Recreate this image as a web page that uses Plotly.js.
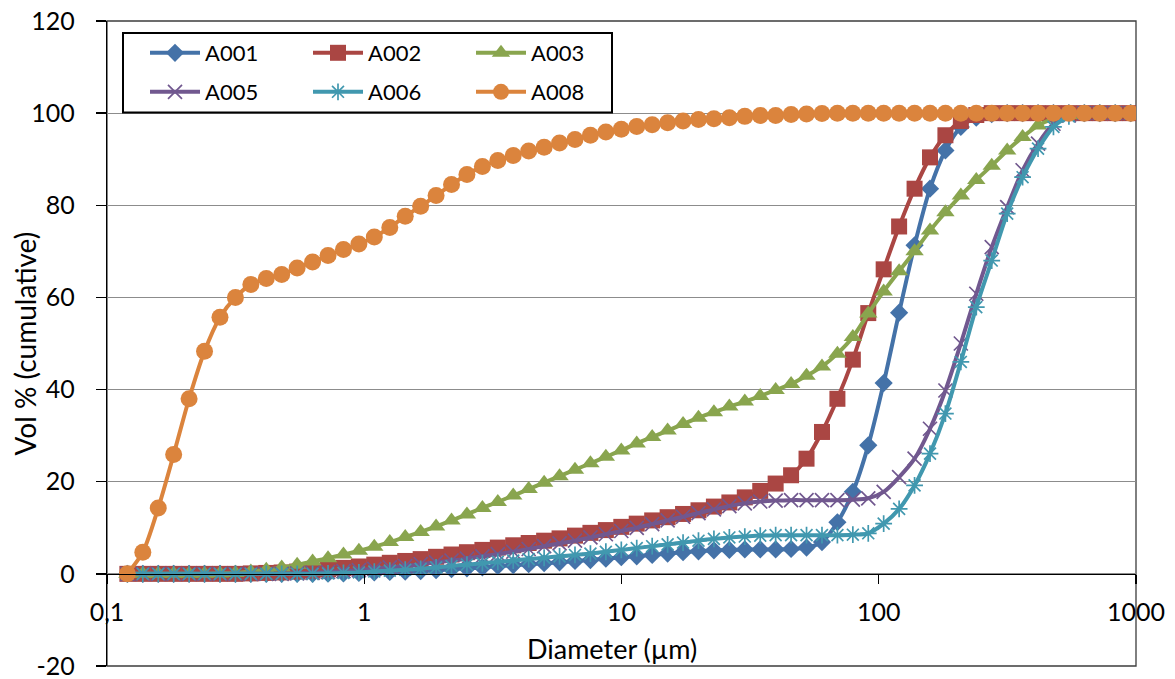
<!DOCTYPE html>
<html>
<head>
<meta charset="utf-8">
<script src="https://cdn.plot.ly/plotly-3.0.1.min.js"></script>
<style>
  html, body { margin: 0; padding: 0; background: #ffffff; }
  #chart { width: 1175px; height: 679px; }
</style>
</head>
<body>
<div id="chart"></div>
<script>
// Particle diameter (µm), shared by all samples
const diameter = [0.12, 0.1378, 0.1582, 0.1816, 0.2085, 0.2394, 0.2749, 0.3157, 0.3624, 0.4161,
  0.4777, 0.5485, 0.6298, 0.7231, 0.8302, 0.9532, 1.094, 1.257, 1.443, 1.657,
  1.902, 2.184, 2.507, 2.879, 3.305, 3.795, 4.357, 5.003, 5.744, 6.595,
  7.572, 8.694, 9.982, 11.46, 13.16, 15.11, 17.35, 19.92, 22.87, 26.26,
  30.15, 34.62, 39.74, 45.63, 52.39, 60.16, 69.07, 79.30, 91.05, 104.5,
  120.0, 137.8, 158.2, 181.6, 208.5, 239.4, 274.9, 315.7, 362.4, 416.1,
  477.7, 548.5, 629.8, 723.1, 830.2, 953.2];

// Cumulative volume % per sample
const A001 = [0,0,0,0,0,0,0,0,0,0,0,0,0,
  0.05,0.1,0.2,0.3,0.4,0.5,0.6,
  0.8,1.0,1.2,1.4,1.7,1.9,2.1,2.3,2.5,2.8,
  3.0,3.3,3.6,3.8,4.1,4.4,4.7,4.9,5.1,5.2,5.3,5.3,5.3,5.4,5.7,6.9,
  11.2,17.8,27.9,41.4,56.7,71.3,83.6,91.9,97.0,99.0,99.8,
  100,100,100,100,100,100,100,100,100];
const A002 = [0,0,0,0,0,0,0,0,
  0.1,0.2,0.3,0.5,0.7,1.0,1.3,
  1.6,2.0,2.4,2.8,3.2,3.7,4.2,4.7,5.2,5.7,6.2,6.7,7.2,7.7,8.3,
  8.9,9.5,10.2,10.9,11.6,12.3,13.0,13.8,14.6,15.5,16.6,18.0,19.6,21.4,
  25.0,30.8,38.0,46.5,56.6,66.1,75.4,83.6,90.4,95.2,98.3,99.6,
  100,100,100,100,100,100,100,100,100,100];
const A003 = [0,0,0,0,0,0,
  0.1,0.2,0.5,0.9,1.4,2.0,2.7,3.4,4.2,5.0,
  5.9,6.9,8.0,9.1,10.3,11.6,12.9,14.3,15.6,17.0,18.4,19.8,21.2,22.6,
  24.0,25.4,26.8,28.3,29.7,31.1,32.5,33.9,35.1,36.3,37.4,38.6,39.9,41.2,43.0,45.0,
  47.8,51.4,56.5,61.3,65.7,70.0,74.5,78.5,82.1,85.5,88.6,91.9,94.8,97.3,98.8,99.6,
  100,100,100,100];
const A005 = [0,0,0,0,0,0,0,0,0,0,0,
  0.1,0.2,0.4,0.6,0.8,1.1,1.4,1.7,2.1,2.5,2.9,3.3,
  3.8,4.3,4.8,5.4,6.0,6.6,7.2,7.9,8.6,9.3,10.0,10.8,11.6,12.4,13.2,14.0,
  14.7,15.3,15.7,15.9,16.0,16.0,16.0,16.0,16.1,16.4,
  17.8,21.0,25.0,31.5,39.8,50.0,60.8,70.9,79.6,87.6,93.4,97.7,99.5,
  100,100,100,100];
const A006 = [0,0,0,0,0,0,0,0,0,0,0,0,0,
  0.1,0.2,0.3,0.5,0.7,0.9,1.1,1.4,1.7,2.0,2.3,2.6,2.9,3.2,3.5,3.8,
  4.1,4.4,4.8,5.2,5.6,6.0,6.4,6.8,7.2,7.6,7.9,8.1,8.3,8.4,8.4,8.4,8.4,8.4,8.5,
  8.8,10.9,14.1,19.2,26.1,34.8,46.0,57.9,68.0,78.2,86.1,92.3,97.0,99.3,
  100,100,100,100];
const A008 = [0,4.7,14.3,25.9,38.0,48.3,55.7,60.0,62.8,64.1,65.0,66.4,67.7,69.1,70.4,71.6,73.1,75.2,
  77.6,79.8,82.1,84.5,86.7,88.4,89.7,90.8,91.8,92.6,93.5,94.3,95.2,95.9,96.5,97.1,
  97.5,97.9,98.3,98.6,98.8,99.0,99.3,99.5,99.5,99.7,99.8,99.9,
  100,100,100,100,100,100,100,100,100,100,100,100,100,100,100,100,100,100,100,100];

const seriesNames = ['A001', 'A002', 'A003', 'A005', 'A006', 'A008'];
const xTickVals = [0.1, 1, 10, 100, 1000];
const xTickText = ['0,1', '1', '10', '100', '1000'];
const yTickVals = [-20, 0, 20, 40, 60, 80, 100, 120];
const yTickText = ['-20', '0', '20', '40', '60', '80', '100', '120'];

const FONT = 'Lato, "Open Sans", "Liberation Sans", sans-serif';

const styles = {
  A001: {color: '#4472A8', symbol: 'diamond', size: 14, legend: 'legend'},
  A002: {color: '#AA4643', symbol: 'square', size: 16, legend: 'legend'},
  A003: {color: '#89A54E', symbol: 'triangle-up', size: 16, legend: 'legend'},
  A005: {color: '#71588F', symbol: 'x-thin-open', size: 14, legend: 'legend2'},
  A006: {color: '#4198AF', symbol: 'asterisk-open', size: 14, legend: 'legend2'},
  A008: {color: '#DB843D', symbol: 'circle', size: 17, legend: 'legend2'}
};
const values = {A001, A002, A003, A005, A006, A008};

const traces = seriesNames.map(name => {
  const s = styles[name];
  const thin = s.symbol.indexOf('open') >= 0;
  return {
    type: 'scatter',
    mode: 'lines+markers',
    name: name,
    x: diameter,
    y: values[name],
    legend: s.legend,
    line: {color: s.color, width: 4, shape: 'spline', smoothing: 0.8},
    marker: {
      symbol: s.symbol,
      size: s.size,
      color: s.color,
      line: thin ? {color: s.color, width: 1.7} : {width: 0}
    },
    hoverinfo: 'x+y+name'
  };
});

// paper coordinates helpers for the plot area (left 107, right 1136, top 21, bottom 666)
const L = 107, R = 1136, T = 21, B = 666;
const px2x = p => (p - L) / (R - L);
const py2y = p => (B - p) / (B - T);

const legendCommon = {
  orientation: 'h',
  xanchor: 'left',
  yanchor: 'middle',
  bgcolor: 'rgba(0,0,0,0)',
  borderwidth: 0,
  entrywidth: 98, entrywidthmode: 'pixels',
  itemwidth: 50,
  font: {family: FONT, size: 22, color: '#000000'},
  traceorder: 'normal'
};

const layout = {
  width: 1175,
  height: 679,
  margin: {l: L, r: 1175 - R, t: T, b: 679 - B, pad: 0},
  paper_bgcolor: '#ffffff',
  plot_bgcolor: '#ffffff',
  showlegend: true,
  font: {family: FONT, color: '#000000', size: 24},
  xaxis: {
    type: 'log',
    range: [-1, 3],
    anchor: 'free',
    position: 20 / 140,
    tickvals: xTickVals,
    ticktext: xTickText,
    ticks: 'outside',
    ticklen: 9,
    tickwidth: 1.3,
    tickcolor: '#000000',
    showline: true,
    linecolor: '#000000',
    linewidth: 1.3,
    showgrid: false,
    zeroline: false,
    ticklabelstandoff: 7,
    ticklabeloverflow: 'allow',
    tickfont: {family: FONT, size: 25, color: '#000000'}
  },
  yaxis: {
    range: [-20, 120],
    tickvals: yTickVals,
    ticktext: yTickText,
    ticks: 'outside',
    ticklen: 10,
    tickwidth: 1.3,
    tickcolor: '#000000',
    showline: true,
    linecolor: '#000000',
    linewidth: 1.3,
    showgrid: true,
    gridcolor: '#8C8C8C',
    gridwidth: 1.2,
    zeroline: false,
    ticklabelstandoff: 16,
    ticklabeloverflow: 'allow',
    tickfont: {family: FONT, size: 25, color: '#000000'}
  },
  legend: Object.assign({}, legendCommon, {x: px2x(145), y: py2y(53)}),
  legend2: Object.assign({}, legendCommon, {x: px2x(145), y: py2y(92)}),
  shapes: [
    // plot-area frame
    {type: 'rect', xref: 'paper', yref: 'paper', x0: 0, x1: 1, y0: 0, y1: 1,
     line: {color: '#3C3C3C', width: 1.3}, fillcolor: 'rgba(0,0,0,0)', layer: 'below'},
    // legend box
    {type: 'rect', xref: 'paper', yref: 'paper',
     x0: px2x(123), x1: px2x(612), y0: py2y(112.5), y1: py2y(33),
     line: {color: '#000000', width: 2}, fillcolor: '#ffffff', layer: 'above'}
  ],
  annotations: [
    {text: 'Vol % (cumulative)', xref: 'paper', yref: 'paper',
     x: px2x(24), y: 0.5, xanchor: 'center', yanchor: 'middle',
     textangle: -90, showarrow: false,
     font: {family: FONT, size: 28, color: '#000000'}},
    {text: 'Diameter (µm)', xref: 'paper', yref: 'paper',
     x: px2x(612), y: py2y(648), xanchor: 'center', yanchor: 'middle',
     showarrow: false,
     font: {family: FONT, size: 27, color: '#000000'}}
  ]
};

Plotly.newPlot('chart', traces, layout, {displayModeBar: false, staticPlot: true});
</script>
</body>
</html>
